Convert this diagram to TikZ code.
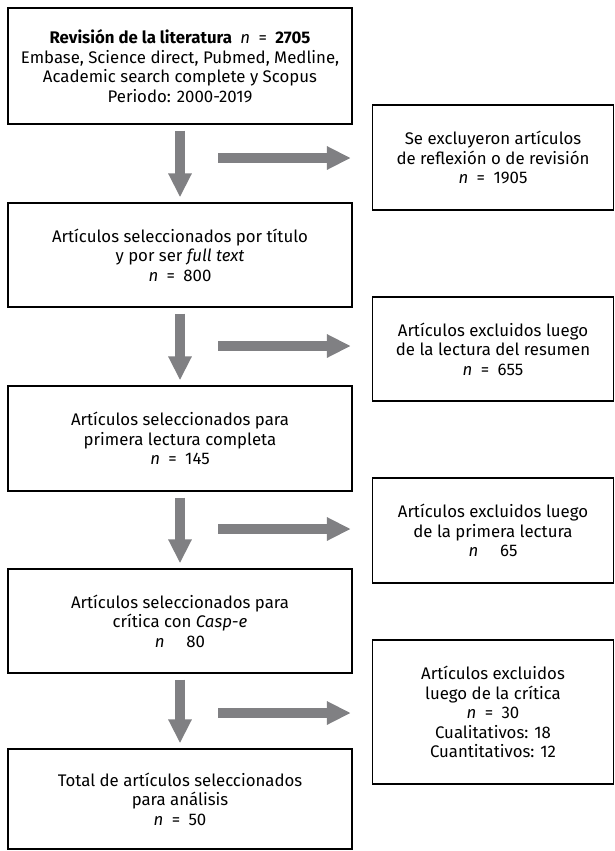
\documentclass[tikz,border=0pt]{standalone}
\usepackage{fontspec}
\setmainfont{Fira Sans}
\usetikzlibrary{arrows.meta}
\definecolor{arrowGray}{RGB}{128,128,131}
\newcommand{\eqsep}{\enspace=\enspace}
\begin{document}
\begin{tikzpicture}[
    x=1pt,y=-1pt,
    stageBox/.style={rectangle,draw=black,line width=1.3pt,minimum width=344pt,align=center,
        font=\fontsize{16.8}{19.5}\selectfont},
    exclBox/.style={stageBox,minimum width=241pt},
    flowArrow/.style={draw=arrowGray,line width=10pt,-{Triangle[width=22pt,length=24pt]}},
]
\useasboundingbox (0,0) rectangle (615,851);
% etapas del cribado
\node[stageBox,minimum height=116pt] (rev) at (180,66) {\textbf{Revisión de la literatura}\enspace\textit{n}\eqsep\textbf{2705}\\Embase, Science direct, Pubmed, Medline,\\Academic search complete y Scopus\\Periodo: 2000-2019};
\node[stageBox,minimum height=104pt] (selTit) at (180,255) {Artículos seleccionados por título\\y por ser \textit{full text}\\\textit{n}\eqsep800};
\node[stageBox,minimum height=105pt] (selLec) at (180,438.5) {Artículos seleccionados para\\primera lectura completa\\\textit{n}\eqsep145};
\node[stageBox,minimum height=104pt] (selCasp) at (180,621) {Artículos seleccionados para\\crítica con \textit{Casp-e}\\\textit{n}\hspace{1.3em}80};
\node[stageBox,minimum height=100pt] (total) at (180,799) {Total de artículos seleccionados\\para análisis\\\textit{n}\eqsep50};
% excluidos
\node[exclBox,minimum height=105pt] (excRev) at (493,157.5) {Se excluyeron artículos\\de reflexión o de revisión\\\textit{n}\eqsep1905};
\node[exclBox,minimum height=104pt] (excRes) at (493,349) {Artículos excluidos luego\\de la lectura del resumen\\\textit{n}\eqsep655};
\node[exclBox,minimum height=105pt] (excLec) at (493,530.5) {Artículos excluidos luego\\de la primera lectura\\\textit{n}\hspace{1.3em}65};
\node[exclBox,minimum height=144pt] (excCrit) at (493,712) {Artículos excluidos\\luego de la crítica\\\textit{n}\eqsep30\\Cualitativos: 18\\Cuantitativos: 12};
% flechas verticales
\draw[flowArrow,shorten <=6pt,shorten >=5pt] (rev.south) -- (selTit.north);
\draw[flowArrow,shorten <=6pt,shorten >=5pt] (selTit.south) -- (selLec.north);
\draw[flowArrow,shorten <=6pt,shorten >=5pt] (selLec.south) -- (selCasp.north);
\draw[flowArrow,shorten <=6pt,shorten >=5pt] (selCasp.south) -- (total.north);
% flechas horizontales
\coordinate (h1) at (218,158);
\coordinate (h2) at (218,346);
\coordinate (h3) at (218,529);
\coordinate (h4) at (218,713);
\draw[flowArrow,shorten >=21pt] (h1) -- (h1 -| excRev.west);
\draw[flowArrow,shorten >=21pt] (h2) -- (h2 -| excRes.west);
\draw[flowArrow,shorten >=21pt] (h3) -- (h3 -| excLec.west);
\draw[flowArrow,shorten >=21pt] (h4) -- (h4 -| excCrit.west);
\end{tikzpicture}
\end{document}
